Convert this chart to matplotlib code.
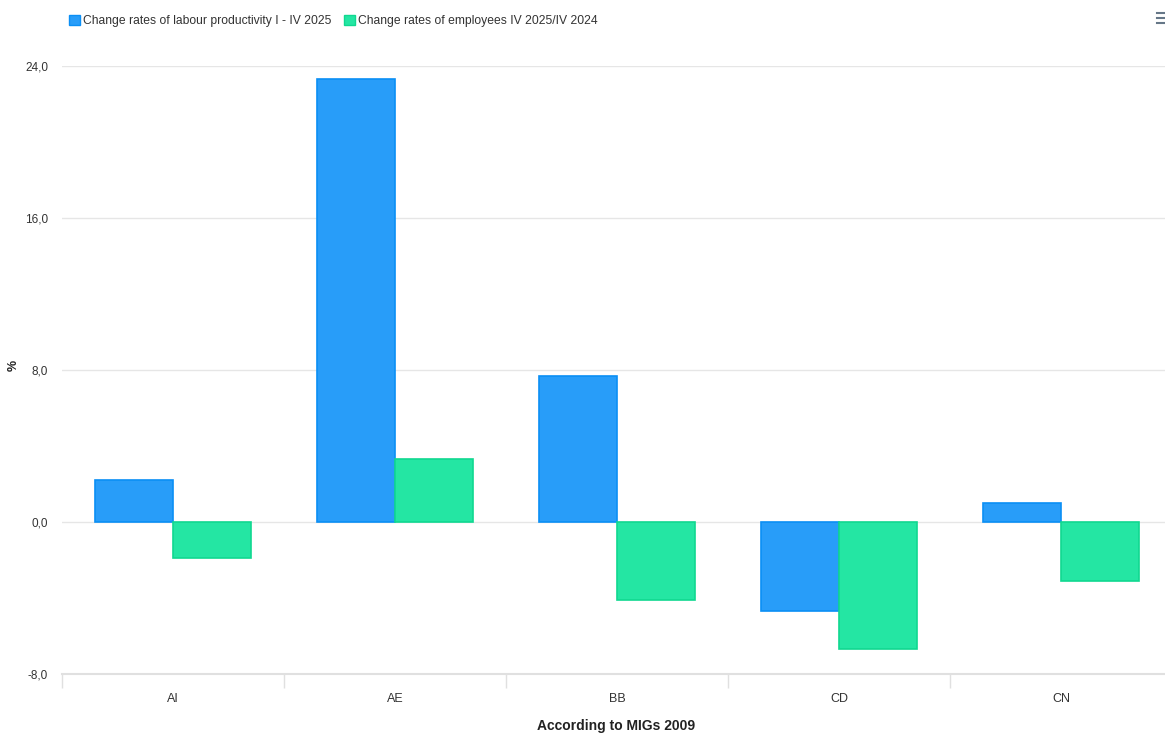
import numpy as np
import matplotlib.pyplot as plt
from matplotlib.patches import Patch
from matplotlib.lines import Line2D
from matplotlib.ticker import FuncFormatter

plt.rcParams['font.family'] = ['Liberation Sans', 'DejaVu Sans']

# data
categories = ["AI", "AE", "BB", "CD", "CN"]
productivity = [2.2, 23.3, 7.7, -4.7, 1.0]
employees = [-1.9, 3.3, -4.1, -6.7, -3.1]
series_names = ["Change rates of labour productivity I - IV 2025",
                "Change rates of employees IV 2025/IV 2024"]

blue_face, blue_edge = "#289df9", "#0b8ff5"
green_face, green_edge = "#24e6a3", "#10d890"

fig = plt.figure(figsize=(11.65, 7.33), dpi=100)
# plot area runs slightly past the right edge, as in the reference
ax = fig.add_axes([62 / 1165, (733 - 674) / 733, 1110 / 1165, 608 / 733])

x = np.arange(len(categories))
w = 0.35
ax.bar(x - w / 2, productivity, w, color=blue_face, edgecolor=blue_edge, linewidth=1.2, zorder=3)
ax.bar(x + w / 2, employees, w, color=green_face, edgecolor=green_edge, linewidth=1.2, zorder=3)

ax.set_xlim(-0.5, len(categories) - 0.5)
ax.set_ylim(-8, 24)
ax.set_yticks([-8, 0, 8, 16, 24])
ax.yaxis.set_major_formatter(FuncFormatter(lambda v, p: f"{v:.1f}".replace(".", ",")))
ax.grid(axis="y", color="#e6e6e6", linewidth=1, zorder=0)

ax.set_xticks(x)
ax.set_xticklabels(categories)
ax.set_xticks(np.arange(-0.5, len(categories), 1), minor=True)
ax.tick_params(axis="x", which="major", length=0, pad=14, labelsize=9, labelcolor="#333333")
ax.tick_params(axis="x", which="minor", length=10, color="#e0e0e0", width=1)
ax.tick_params(axis="y", length=0, pad=10, labelsize=8.5, labelcolor="#333333")

for s in ["top", "right", "left"]:
    ax.spines[s].set_visible(False)
ax.spines["bottom"].set_color("#e0e0e0")
ax.spines["bottom"].set_linewidth(1.5)

fig.text(616 / 1165, 1 - 726 / 733, "According to MIGs 2009", fontsize=10, fontweight="bold",
         color="#222222", ha="center", va="center")
fig.text(14 / 1165, 1 - 365 / 733, "%", rotation=90, fontsize=9, fontweight="bold",
         color="#222222", ha="center", va="center")

handles = [Patch(facecolor=blue_face, edgecolor=blue_edge),
           Patch(facecolor=green_face, edgecolor=green_edge)]
fig.legend(handles, series_names, loc="upper left", bbox_to_anchor=(58 / 1165, 1 - 4 / 733),
           ncol=2, frameon=False, fontsize=8.7, handlelength=0.9, handleheight=0.9,
           handletextpad=0.3, columnspacing=1.0, labelcolor="#333333")

# menu icon in the corner
for yy in [13, 18, 23]:
    fig.add_artist(Line2D([1157 / 1165, 1165 / 1165], [1 - yy / 733, 1 - yy / 733],
                          color="#667788", linewidth=1.5))

fig.savefig("out.png", dpi=100)
